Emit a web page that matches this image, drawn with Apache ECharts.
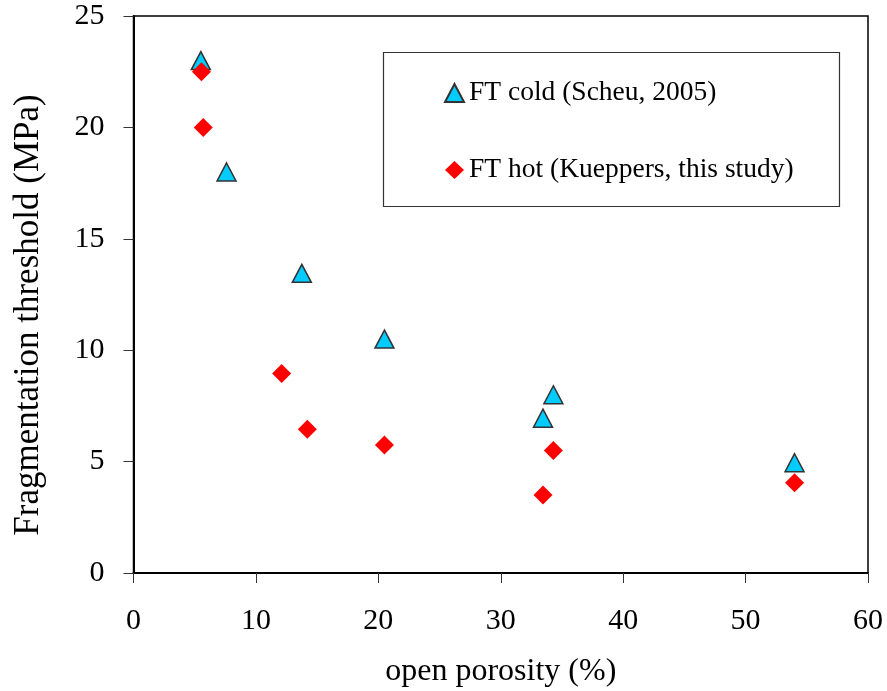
<!DOCTYPE html>
<html>
<head>
<meta charset="utf-8">
<script src="https://cdn.jsdelivr.net/npm/echarts@6/dist/echarts.min.js"></script>
<style>
  html, body { margin: 0; padding: 0; background: #fff; }
  #chart { width: 887px; height: 691px; }
</style>
</head>
<body>
<div id="chart"></div>
<script>
// Fragmentation threshold vs. open porosity
const coldPorosity = [5.5, 7.6, 13.75, 20.5, 33.45, 34.3, 54.0];
const coldThreshold = [23.0, 18.0, 13.45, 10.5, 6.95, 8.0, 4.95];
const hotPorosity = [5.55, 5.7, 12.1, 14.2, 20.5, 33.45, 34.3, 54.0];
const hotThreshold = [22.5, 20.0, 8.95, 6.45, 5.75, 3.5, 5.5, 4.05];
const coldName = 'FT cold (Scheu, 2005)';
const hotName = 'FT hot (Kueppers, this study)';
const xTitle = 'open porosity (%)';
const yTitle = 'Fragmentation threshold (MPa)';

const FONT = '"Liberation Serif", "Times New Roman", serif';

const pairs = (xs, ys) => xs.map((x, i) => [x, ys[i]]);

const chart = echarts.init(document.getElementById('chart'), null, { renderer: 'canvas' });

chart.setOption({
  animation: false,
  backgroundColor: '#ffffff',
  textStyle: { fontFamily: FONT, color: '#000' },
  grid: {
    left: 133.5, right: 19, top: 16, bottom: 118,
    outerBoundsMode: 'none',
    containLabel: false,
    show: true, borderColor: '#000', borderWidth: 1.5,
    backgroundColor: 'transparent'
  },
  xAxis: {
    type: 'value', min: 0, max: 60, interval: 10,
    name: xTitle, nameLocation: 'middle', nameGap: 83,
    nameTextStyle: { fontFamily: FONT, fontSize: 32, color: '#000' },
    axisLine: { show: true, onZero: false, lineStyle: { color: '#000', width: 2 } },
    axisTick: { show: true, inside: false, length: 10, lineStyle: { color: '#333', width: 1 } },
    axisLabel: { fontFamily: FONT, fontSize: 30, color: '#000', margin: 33 },
    splitLine: { show: false }
  },
  yAxis: {
    type: 'value', min: 0, max: 25, interval: 5,
    axisLine: { show: true, onZero: false, lineStyle: { color: '#000', width: 2 } },
    axisTick: { show: true, inside: false, length: 10, lineStyle: { color: '#333', width: 1 } },
    axisLabel: { fontFamily: FONT, fontSize: 30, color: '#000', margin: 29 },
    splitLine: { show: false }
  },
  legend: {
    orient: 'vertical',
    left: 444, top: 78,
    padding: 0,
    itemGap: 47,
    itemWidth: 19, itemHeight: 18,
    textStyle: { fontFamily: FONT, fontSize: 27.5, color: '#000', lineHeight: 30 },
    data: [coldName, hotName]
  },
  graphic: [
    {
      type: 'rect',
      shape: { x: 383.5, y: 52.5, width: 456, height: 154 },
      style: { fill: 'transparent', stroke: '#333', lineWidth: 1.2 },
      z: 1
    },
    {
      // vertical axis title
      type: 'text',
      x: 29, y: 315,
      rotation: Math.PI / 2,
      style: {
        text: yTitle,
        font: '35px ' + FONT,
        fill: '#000',
        align: 'center',
        verticalAlign: 'middle'
      },
      z: 5
    }
  ],
  series: [
    {
      name: coldName, type: 'scatter',
      symbol: 'triangle', symbolSize: [19, 18],
      itemStyle: { color: '#00CCFF', borderColor: '#333333', borderWidth: 1.5, opacity: 1 },
      data: pairs(coldPorosity, coldThreshold),
      z: 3
    },
    {
      name: hotName, type: 'scatter',
      symbol: 'diamond', symbolSize: [19, 19],
      itemStyle: { color: '#FF0000', borderWidth: 0, opacity: 1 },
      data: pairs(hotPorosity, hotThreshold),
      z: 4
    }
  ]
});
</script>
</body>
</html>
